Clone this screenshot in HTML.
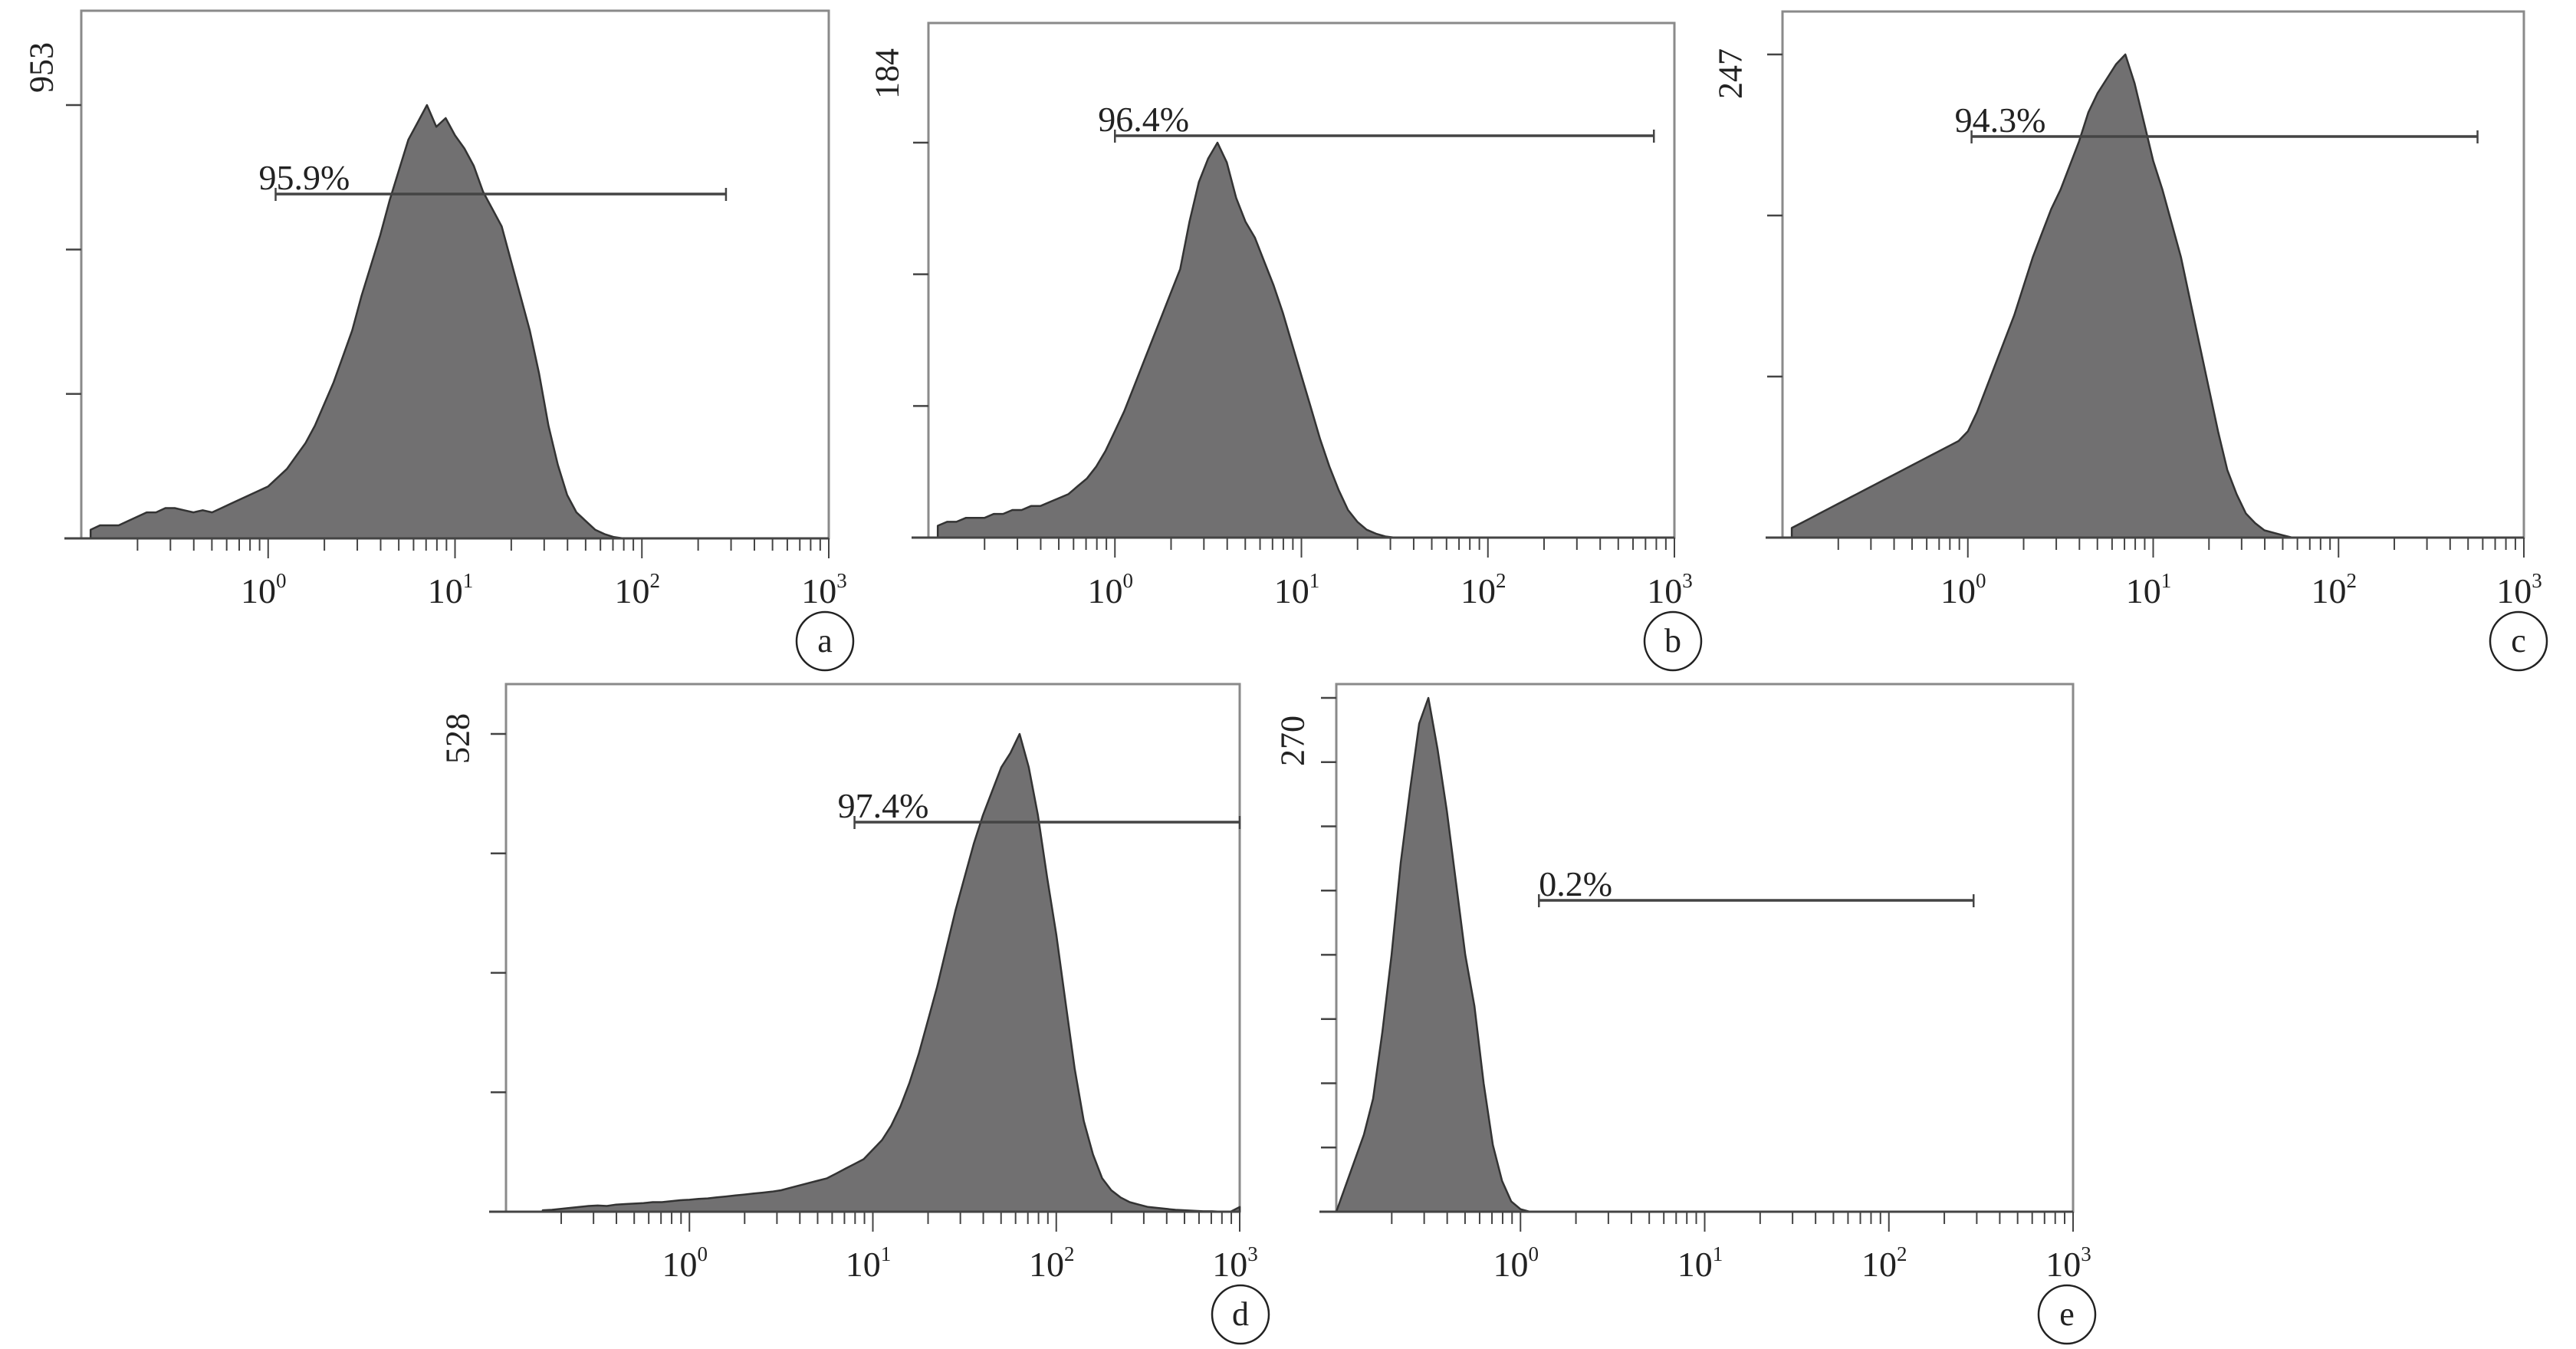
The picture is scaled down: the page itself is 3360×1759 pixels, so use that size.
<!DOCTYPE html>
<html><head><meta charset="utf-8"><style>
html,body{margin:0;padding:0;background:#fff}
svg{display:block}
text{font-family:"Liberation Serif",serif;fill:#222}
</style></head><body>
<svg id="chart" width="3360" height="1759" viewBox="0 0 3360 1759" xmlns="http://www.w3.org/2000/svg"></svg>
<script>
// ---- data (histogram heights as fraction of y-axis max, bins in log10 units) ----
const panelIds = ['a','b','c','d','e'];
const yMaxLabels = ['953','184','247','528','270'];
const gatePercents = ['95.9%','96.4%','94.3%','97.4%','0.2%'];
const gateStartLog = [0.04, 0.0, 0.02, 0.9, 0.1];
const gateEndLog = [2.45, 2.89, 2.75, 3.0, 2.46];
const binStep = 0.05;
const binStart = [-0.95, -0.95, -0.95, -0.8, -1.0];
const countsA = [.02,.03,.03,.03,.04,.05,.06,.06,.07,.07,.065,.06,.065,.06,.07,.08,.09,.1,.11,.12,.14,.16,.19,.22,.26,.31,.36,.42,.48,.56,.63,.7,.78,.85,.92,.96,1.0,.95,.97,.93,.9,.86,.8,.76,.72,.64,.56,.48,.38,.26,.17,.1,.06,.04,.02,.01,.003,0];
const countsB = [.03,.04,.04,.05,.05,.05,.06,.06,.07,.07,.08,.08,.09,.1,.11,.13,.15,.18,.22,.27,.32,.38,.44,.5,.56,.62,.68,.8,.9,.96,1.0,.95,.86,.8,.76,.7,.64,.57,.49,.41,.33,.25,.18,.12,.07,.04,.02,.01,.003,0];
const countsC = [.02,.03,.04,.05,.06,.07,.08,.09,.1,.11,.12,.13,.14,.15,.16,.17,.18,.19,.2,.22,.26,.31,.36,.41,.46,.52,.58,.63,.68,.72,.77,.82,.88,.92,.95,.98,1.0,.94,.86,.78,.72,.65,.58,.49,.4,.31,.22,.14,.09,.05,.03,.015,.01,.005,0];
const countsD = [.003,.004,.006,.008,.01,.012,.013,.012,.015,.016,.017,.018,.02,.02,.022,.024,.025,.027,.028,.03,.032,.034,.036,.038,.04,.042,.045,.05,.055,.06,.065,.07,.08,.09,.1,.11,.13,.15,.18,.22,.27,.33,.4,.47,.55,.63,.7,.77,.83,.88,.93,.96,1.0,.93,.83,.7,.58,.44,.3,.19,.12,.07,.045,.03,.02,.015,.01,.008,.006,.004,.003,.002,.001,.001,0,0,.01];
const countsE = [0,.05,.1,.15,.22,.35,.5,.68,.82,.95,1.0,.9,.78,.64,.5,.4,.25,.13,.06,.02,.005,0];
const allCounts = [countsA, countsB, countsC, countsD, countsE];
const tickExps = ['0','1','2','3'];

// ---- geometry (layout only) ----
const geom = [
 {l:106,r:1081,t:14,b:702,yTickTop:137,nY:4,lab:[54,88],circ:[1076,836],tickY:770,textW:145,white:false},
 {l:1211,r:2184,t:30,b:701,yTickTop:186,nY:4,lab:[1157,96],circ:[2182,836],tickY:770,textW:150,white:true},
 {l:2325,r:3292,t:15,b:701,yTickTop:71,nY:4,lab:[2257,96],circ:[3285,836],tickY:770,textW:150,white:true},
 {l:660,r:1617,t:892,b:1580,yTickTop:957,nY:5,lab:[597,963],circ:[1618,1714],tickY:1648,textW:150,white:false},
 {l:1743,r:2704,t:892,b:1580,yTickTop:910,nY:9,lab:[1686,966],circ:[2696,1714],tickY:1648,textW:120,white:false}
];
const gateY = [253,177,178,1072,1174];

const NS='http://www.w3.org/2000/svg';
const svg=document.getElementById('chart');
function mk(tag,attrs,parent){const e=document.createElementNS(NS,tag);for(const k in attrs)e.setAttribute(k,attrs[k]);(parent||svg).appendChild(e);return e;}

panelIds.forEach((id,i)=>{
  const g=geom[i];
  const grp=mk('g',{});
  
  
  const xs=v=>g.l+(v+1)/4*(g.r-g.l);
  const ys=f=>g.b-f*(g.yTickTop-g.b)*-1;
  // frame
  const fr=mk('rect',{x:g.l,y:g.t,width:g.r-g.l,height:g.b-g.t,fill:'none',stroke:'#8a8a8a','stroke-width':3},grp);
  
  
  // histogram
  const c=allCounts[i];
  let d='M'+xs(binStart[i])+','+g.b;
  c.forEach((v,k)=>{d+=' L'+xs(binStart[i]+k*binStep).toFixed(1)+','+ys(v).toFixed(1);});
  d+=' L'+xs(binStart[i]+(c.length-1)*binStep).toFixed(1)+','+g.b+' Z';
  const h=mk('path',{d:d,fill:'#717071',stroke:'#333','stroke-width':2.5,'stroke-linejoin':'round'},grp);
  
  
  // x axis
  const ax=mk('line',{x1:g.l-22,y1:g.b,x2:g.r,y2:g.b,stroke:'#444','stroke-width':3},grp);
  
  
  for(let dec=-1;dec<3;dec++){
    for(let m=1;m<10;m++){
      const lv=dec+Math.log10(m);
      if(lv<=-1)continue;
      const x=xs(lv);
      mk('line',{x1:x,y1:g.b,x2:x,y2:g.b+(m===1?26:16),stroke:'#444','stroke-width':2},grp);
    }
  }
  mk('line',{x1:g.r,y1:g.b,x2:g.r,y2:g.b+26,stroke:'#444','stroke-width':2},grp);
  tickExps.forEach((e,k)=>{
    const t=mk('text',{x:xs(k)-6,y:g.tickY+16,'font-size':46,'text-anchor':'middle'},grp);
    
    
    t.textContent='10';
    const s=mk('tspan',{dy:-20,'font-size':27},t);
    s.textContent=e;
  });
  // y axis ticks
  for(let k=0;k<g.nY;k++){
    const y=g.b-(g.b-g.yTickTop)*k/(g.nY-1);
    mk('line',{x1:g.l-20,y1:y,x2:g.l,y2:y,stroke:'#444','stroke-width':2.5},grp);
  }
  const yl=mk('text',{x:g.lab[0],y:g.lab[1],'font-size':44,'text-anchor':'middle',transform:'rotate(-90 '+g.lab[0]+' '+g.lab[1]+')','dominant-baseline':'central'},grp);
  
  
  yl.textContent=yMaxLabels[i];
  // gate
  const gx1=xs(gateStartLog[i]),gx2=xs(gateEndLog[i]),gy=gateY[i];
  if(g.white){
    mk('rect',{x:gx1-30,y:gy-40,width:g.textW+10,height:52,fill:'#fff'},grp);
  }
  const gl=mk('line',{x1:gx1,y1:gy,x2:gx2,y2:gy,stroke:'#444','stroke-width':3.5},grp);
  
  
  mk('line',{x1:gx1,y1:gy-8,x2:gx1,y2:gy+9,stroke:'#444','stroke-width':2.5},grp);
  mk('line',{x1:gx2,y1:gy-8,x2:gx2,y2:gy+9,stroke:'#444','stroke-width':2.5},grp);
  const gt=mk('text',{x:gx1-22+(i===4?22:0),y:gy-6,'font-size':46},grp);
  
  
  gt.textContent=gatePercents[i];
  // panel letter circle
  const cc=mk('ellipse',{cx:g.circ[0],cy:g.circ[1],rx:37,ry:38,fill:'none',stroke:'#222','stroke-width':2.5},grp);
  
  
  const ct=mk('text',{x:g.circ[0],y:g.circ[1]+14,'font-size':44,'text-anchor':'middle'},grp);
  
  
  ct.textContent=id;
});
</script>
</body></html>
